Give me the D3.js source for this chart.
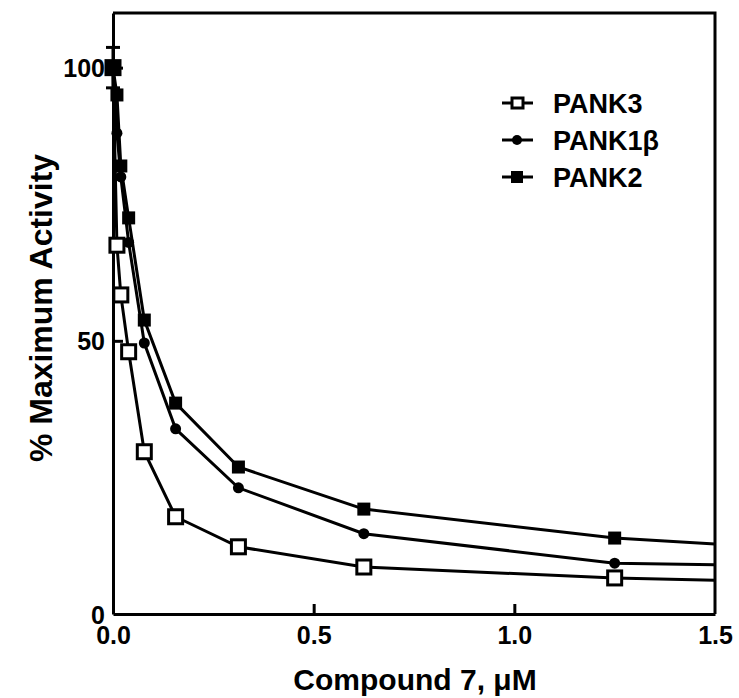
<!DOCTYPE html>
<html>
<head>
<meta charset="utf-8">
<script src="https://cdn.jsdelivr.net/npm/d3@7"></script>
<style>
  body { margin: 0; background: #fff; }
  text { font-family: "Liberation Sans", Arial, sans-serif; font-weight: bold; fill: #000; }
</style>
</head>
<body>
<div id="chart"></div>
<script>
// concentrations (uM), 2-fold dilution series; last point runs off the axis
const conc = [0, 0.0098, 0.0195, 0.039, 0.078, 0.156, 0.3125, 0.625, 1.25, 2.5];
const pank3 = [100, 67.5, 58.4, 48, 29.7, 17.8, 12.3, 8.6, 6.6, 4.6];
const pank1b = [100, 88, 80, 68, 49.6, 33.9, 23.1, 14.7, 9.3, 7.8];
const pank2 = [100, 95, 82, 72.5, 53.8, 38.6, 26.9, 19.2, 13.9, 8.4];
const seriesNames = ["PANK3", "PANK1\u03b2", "PANK2"];
const xTicks = [0, 0.5, 1.0, 1.5];
const yTicks = [0, 50, 100];
const errAtZero = 3.7;

const margin = {top: 13, right: 24, bottom: 84, left: 113},
  width = 739 - margin.left - margin.right,
  height = 698 - margin.top - margin.bottom;

const svg = d3.select("#chart")
  .append("svg")
    .attr("width", 739)
    .attr("height", 698)
  .append("g")
    .attr("transform", `translate(${margin.left},${margin.top})`);

let x = d3.scaleLinear().domain([0, 1.5]).range([0, width]);
let y = d3.scaleLinear().domain([0, 110]).range([height, 0]);

svg.append("defs").append("clipPath")
  .attr("id", "plot-clip")
  .append("rect")
    .attr("x", -10).attr("y", -10)
    .attr("width", width + 10).attr("height", height + 20);

// frame (top and right sides)
svg.append("path")
  .attr("d", `M0,0H${width}V${height}`)
  .attr("fill", "none")
  .attr("stroke", "#000")
  .attr("stroke-width", 3);

// axes with inward ticks
let x_axis = d3.axisBottom(x).tickValues(xTicks).tickSizeInner(-10).tickSizeOuter(0)
  .tickPadding(12).tickFormat(d3.format(".1f"));
let y_axis = d3.axisLeft(y).tickValues(yTicks).tickSizeInner(-10).tickSizeOuter(0)
  .tickPadding(8).tickFormat(d3.format("d"));

let gx = svg.append("g")
  .attr("transform", `translate(0,${height})`)
  .call(x_axis);
let gy = svg.append("g").call(y_axis);

[gx, gy].forEach(function (g) {
  g.selectAll(".domain").attr("stroke-width", 3);
  g.selectAll(".tick line").attr("stroke-width", 3);
  g.selectAll(".tick text").style("font-size", "25px");
});
gx.selectAll(".tick").filter(d => d === 0 || d === 1.5).select("line").remove();
gy.selectAll(".tick").filter(d => d === 0).select("line").remove();
gy.selectAll(".tick text").attr("dy", "0.36em");

// axis titles
svg.append("text")
  .attr("x", 302)
  .attr("y", height + 76)
  .attr("text-anchor", "middle")
  .style("font-size", "30px")
  .text("Compound 7, \u03bcM");

svg.append("text")
  .attr("transform", `translate(-61,295) rotate(-90)`)
  .attr("text-anchor", "middle")
  .style("font-size", "32px")
  .text("% Maximum Activity");

const seriesData = [pank3, pank1b, pank2];
const line = d3.line()
  .x(function (d, i) { return x(conc[i]); })
  .y(function (d) { return y(d); });

let plot = svg.append("g").attr("clip-path", "url(#plot-clip)");

// error bars at zero concentration
let eb = plot.append("g");
eb.append("line")
  .attr("x1", x(0)).attr("x2", x(0))
  .attr("y1", y(100 + errAtZero)).attr("y2", y(100 - errAtZero))
  .attr("stroke", "#000").attr("stroke-width", 3);
[100 + errAtZero, 100 - errAtZero].forEach(function (v) {
  eb.append("line")
    .attr("x1", x(0) - 7).attr("x2", x(0) + 7)
    .attr("y1", y(v)).attr("y2", y(v))
    .attr("stroke", "#000").attr("stroke-width", 3);
});

seriesData.forEach(function (vals) {
  plot.append("path")
    .datum(vals)
    .attr("d", line)
    .attr("fill", "none")
    .attr("stroke", "#000")
    .attr("stroke-width", 3);
});

function drawMarker(g, kind, cx, cy) {
  if (kind === 0) {
    g.append("rect")
      .attr("x", cx - 7).attr("y", cy - 7)
      .attr("width", 14).attr("height", 14)
      .attr("fill", "#fff").attr("stroke", "#000").attr("stroke-width", 3);
  } else if (kind === 1) {
    g.append("circle")
      .attr("cx", cx).attr("cy", cy).attr("r", 5.5)
      .attr("fill", "#000");
  } else {
    g.append("rect")
      .attr("x", cx - 6.5).attr("y", cy - 6.5)
      .attr("width", 13).attr("height", 13)
      .attr("fill", "#000");
  }
}

seriesData.forEach(function (vals, k) {
  let g = plot.append("g");
  vals.forEach(function (v, i) {
    if (conc[i] <= 1.5) drawMarker(g, k, x(conc[i]), y(v));
  });
});

// legend
let legend = svg.selectAll(".legend")
  .data(seriesNames)
  .enter().append("g")
  .attr("class", "legend")
  .attr("transform", function (d, i) {
    return "translate(389," + (90 + i * 37) + ")";
  });

legend.append("line")
  .attr("x1", 0).attr("x2", 31)
  .attr("stroke", "#000").attr("stroke-width", 3);

legend.each(function (d, i) {
  let g = d3.select(this);
  if (i === 0) {
    g.append("rect").attr("x", 10).attr("y", -5).attr("width", 11).attr("height", 10)
      .attr("fill", "#fff").attr("stroke", "#000").attr("stroke-width", 3);
  } else if (i === 1) {
    g.append("circle").attr("cx", 15).attr("r", 5).attr("fill", "#000");
  } else {
    g.append("rect").attr("x", 9).attr("y", -6).attr("width", 12).attr("height", 12)
      .attr("fill", "#000");
  }
});

legend.append("text")
  .attr("x", 51)
  .attr("dy", "0.36em")
  .style("font-size", "27px")
  .text(function (d) { return d; });
</script>
</body>
</html>
